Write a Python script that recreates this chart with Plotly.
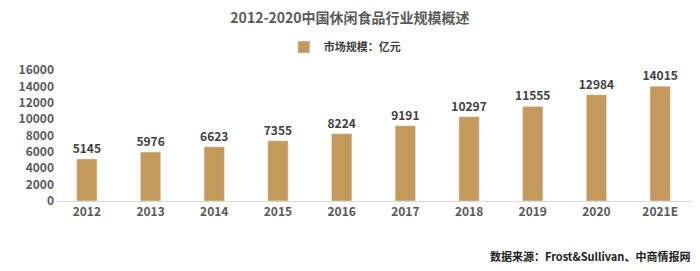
import plotly.graph_objects as go

years = ["2012", "2013", "2014", "2015", "2016", "2017", "2018", "2019", "2020", "2021E"]
market_size = [5145, 5976, 6623, 7355, 8224, 9191, 10297, 11555, 12984, 14015]
y_ticks = [0, 2000, 4000, 6000, 8000, 10000, 12000, 14000, 16000]

FONT = "Noto Sans CJK SC"
bar_color = "#C49A5C"

fig = go.Figure()
fig.add_trace(go.Bar(
    x=years, y=market_size, name="<b>市场规模：亿元</b>",
    marker_color=bar_color,
    texttemplate="<b>%{y:d}</b>", textposition="outside",
    constraintext="none",
    textfont=dict(family=FONT, size=12, color="#404040"),
    cliponaxis=False,
))

fig.update_layout(
    width=700, height=271,
    margin=dict(l=55, r=8, t=70, b=70),
    paper_bgcolor="white", plot_bgcolor="white",
    bargap=0.68,
    uniformtext=dict(minsize=12, mode="show"),
    title=dict(text="<b>2012-2020中国休闲食品行业规模概述</b>", x=0.5, xanchor="center",
               y=0.934, yanchor="middle",
               font=dict(family=FONT, size=14, color="#595959")),
    showlegend=True,
    legend=dict(orientation="h", x=0.455, xanchor="center", y=1.175, yanchor="middle",
                font=dict(family=FONT, size=11, color="#404040"),
                itemwidth=30),
    xaxis=dict(showgrid=False, showline=True, linecolor="#D9D9D9", linewidth=1,
               ticks="", tickfont=dict(family=FONT, size=12, color="#595959")),
    yaxis=dict(range=[0, 16000], tickvals=y_ticks,
               ticktext=["<b>%d</b>" % v for v in y_ticks],
               showgrid=False, zeroline=False,
               showline=False, ticks="",
               tickfont=dict(family=FONT, size=12, color="#595959")),
    annotations=[dict(text="<b>数据来源：Frost&Sullivan、中商情报网</b>", xref="paper", yref="paper",
                      x=1.0, xanchor="right", y=-0.42, yanchor="middle", showarrow=False,
                      font=dict(family=FONT, size=11, color="#222222"))],
)
fig.update_xaxes(tickprefix="<b>", ticksuffix="</b>")

fig.write_html("out.html")
